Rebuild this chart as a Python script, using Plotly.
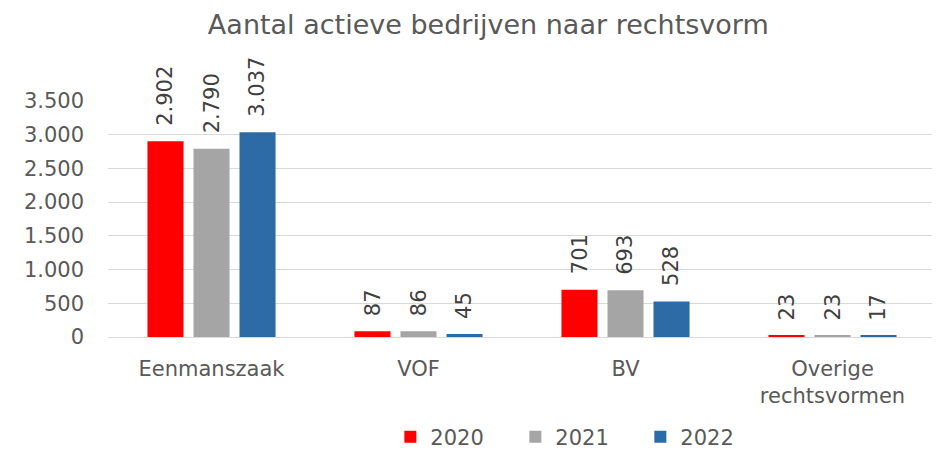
import plotly.graph_objects as go

categories = ["Eenmanszaak", "VOF", "BV", "Overige<br>rechtsvormen"]
years = ["2020", "2021", "2022"]
values_2020 = [2902, 87, 701, 23]
values_2021 = [2790, 86, 693, 23]
values_2022 = [3037, 45, 528, 17]
colors = ["#FF0000", "#A5A5A5", "#2C6BA5"]
y_ticks = [0, 500, 1000, 1500, 2000, 2500, 3000, 3500]

FONT = "DejaVu Sans, Verdana, sans-serif"
SLOT_PX = 46  # pixel spacing between bars inside a group


def nl(v):
    return f"{v:,}".replace(",", ".")


fig = go.Figure()
series = [values_2020, values_2021, values_2022]
for i, (year, vals, col) in enumerate(zip(years, series, colors)):
    fig.add_trace(go.Bar(
        name=year, x=categories, y=vals,
        marker=dict(color=col, line=dict(width=0)),
        cliponaxis=False,
    ))
    for cat, v in zip(categories, vals):
        fig.add_annotation(
            x=cat, y=v, xref="x", yref="y",
            text=nl(v), textangle=-90, showarrow=False,
            xanchor="center", yanchor="bottom",
            xshift=(i - 1) * SLOT_PX, yshift=13,
            font=dict(family=FONT, size=21, color="#404040"),
        )

fig.update_layout(
    width=940, height=462,
    margin=dict(l=100, r=12, t=93, b=124),
    paper_bgcolor="white", plot_bgcolor="white",
    barmode="group", bargap=0.333, bargroupgap=0.217,
    title=dict(text="Aantal actieve bedrijven naar rechtsvorm",
               font=dict(family=FONT, size=27, color="#595959"),
               x=0.511, xanchor="center", y=0.965, yanchor="middle", yref="container"),
    font=dict(family=FONT, size=21, color="#595959"),
    showlegend=True,
    legend=dict(orientation="h", x=0.341, xanchor="left", y=-0.424, yanchor="middle",
                font=dict(family=FONT, size=21, color="#595959"),
                entrywidth=80, entrywidthmode="pixels"),
    xaxis=dict(showgrid=False, showline=False, ticks="", automargin=False,
               ticklabelstandoff=17,
               tickfont=dict(family=FONT, size=21, color="#595959")),
    yaxis=dict(range=[0, 3500], tickvals=y_ticks, ticktext=[nl(v) for v in y_ticks],
               showgrid=True, gridcolor="#D9D9D9", gridwidth=1,
               zeroline=True, zerolinecolor="#D9D9D9", zerolinewidth=1,
               showline=False, ticks="", automargin=False, ticklabelstandoff=23,
               tickfont=dict(family=FONT, size=21, color="#595959")),
)

fig.write_html("out.html")
